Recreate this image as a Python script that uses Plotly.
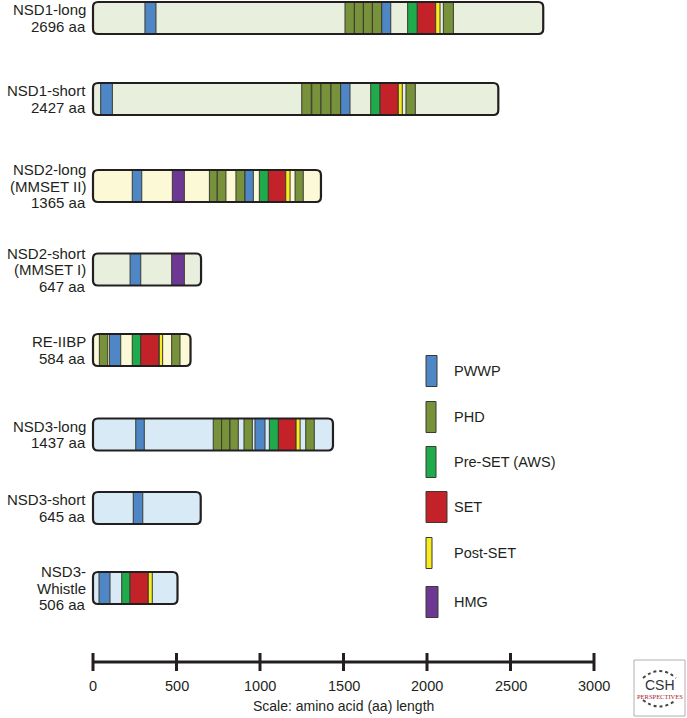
import plotly.graph_objects as go

# ---------------- data ----------------
PROTEINS = ["NSD1-long", "NSD1-short", "NSD2-long", "NSD2-short",
            "RE-IIBP", "NSD3-long", "NSD3-short", "NSD3-Whistle"]
LABEL_LINES = [["NSD1-long", "2696 aa"],
               ["NSD1-short", "2427 aa"],
               ["NSD2-long", "(MMSET II)", "1365 aa"],
               ["NSD2-short", "(MMSET I)", "647 aa"],
               ["RE-IIBP", "584 aa"],
               ["NSD3-long", "1437 aa"],
               ["NSD3-short", "645 aa"],
               ["NSD3-", "Whistle", "506 aa"]]
LENGTHS = [2696, 2427, 1365, 647, 584, 1437, 645, 506]
BACKGROUND = ["green", "green", "yellow", "green", "yellow", "blue", "blue", "blue"]

NSD1_LONG = [("PWWP", 311, 377), ("PHD", 1509, 1565), ("PHD", 1565, 1619),
             ("PHD", 1619, 1673), ("PHD", 1673, 1729), ("PWWP", 1729, 1783),
             ("PreSET", 1884, 1942), ("SET", 1942, 2052), ("PostSET", 2052, 2078),
             ("PHD", 2098, 2158)]
NSD1_SHORT = [("PWWP", 46, 116), ("PHD", 1250, 1307), ("PHD", 1310, 1365),
              ("PHD", 1365, 1425), ("PHD", 1425, 1483), ("PWWP", 1483, 1539),
              ("PreSET", 1663, 1719), ("SET", 1719, 1828), ("PostSET", 1828, 1852),
              ("PHD", 1874, 1930)]
NSD2_LONG = [("PWWP", 235, 292), ("HMG", 475, 547), ("PHD", 697, 744),
             ("PHD", 744, 796), ("PHD", 856, 910), ("PWWP", 910, 960),
             ("PreSET", 996, 1050), ("SET", 1050, 1154), ("PostSET", 1154, 1180),
             ("PHD", 1210, 1259)]
NSD2_SHORT = [("PWWP", 222, 286), ("HMG", 471, 547)]
RE_IIBP = [("PHD", 38, 88), ("PWWP", 98, 166), ("PreSET", 235, 286),
           ("SET", 286, 395), ("PostSET", 397, 417), ("PHD", 471, 521)]
NSD3_LONG = [("PWWP", 256, 307), ("PHD", 720, 770), ("PHD", 770, 820),
             ("PHD", 820, 870), ("PHD", 904, 954), ("PWWP", 970, 1030),
             ("PreSET", 1056, 1110), ("SET", 1110, 1216), ("PostSET", 1216, 1240),
             ("PHD", 1274, 1325)]
NSD3_SHORT = [("PWWP", 241, 298)]
NSD3_WHISTLE = [("PWWP", 36, 102), ("PreSET", 172, 222), ("SET", 222, 331),
                ("PostSET", 331, 355)]
DOMAINS = [NSD1_LONG, NSD1_SHORT, NSD2_LONG, NSD2_SHORT, RE_IIBP,
           NSD3_LONG, NSD3_SHORT, NSD3_WHISTLE]

LEGEND_KEYS = ["PWWP", "PHD", "PreSET", "SET", "PostSET", "HMG"]
LEGEND_TEXT = ["PWWP", "PHD", "Pre-SET (AWS)", "SET", "Post-SET", "HMG"]

SCALE_TICKS = [0, 500, 1000, 1500, 2000, 2500, 3000]
SCALE_TITLE = "Scale: amino acid (aa) length"

# ---------------- style ----------------
W, H = 687, 718
COLORS = {"PWWP": "#4f86c6", "PHD": "#77923a", "PreSET": "#1fab4c",
          "SET": "#c42229", "PostSET": "#f6ec1f", "HMG": "#6c3894"}
BG = {"green": "#e8efdd", "yellow": "#fcf9d7", "blue": "#d8eaf5"}
LEG_W = {"PWWP": 11, "PHD": 10, "PreSET": 10, "SET": 21, "PostSET": 6, "HMG": 12}
ROW_Y = [18, 99, 186, 269.5, 350, 434.5, 508, 588]
BAR_HALF = 16
LEG_Y = [371, 417, 462, 507, 553, 602]
FONT = "Liberation Sans, Arial, Helvetica, sans-serif"
TXT = "#231f20"

PX0 = 93.0            # pixel of aa=0
PX_PER_AA = 0.167
XMIN = -PX0 / PX_PER_AA
XMAX = XMIN + W / PX_PER_AA


def px(xp):
    return xp / W


shapes = []
annotations = []


def rrect_path(x0, x1, y0, y1, rpx=5):
    rx = rpx / PX_PER_AA
    ry = rpx
    return (f"M {x0+rx},{y0} L {x1-rx},{y0} Q {x1},{y0} {x1},{y0+ry} "
            f"L {x1},{y1-ry} Q {x1},{y1} {x1-rx},{y1} L {x0+rx},{y1} "
            f"Q {x0},{y1} {x0},{y1-ry} L {x0},{y0+ry} Q {x0},{y0} {x0+rx},{y0} Z")


for i, name in enumerate(PROTEINS):
    yc = ROW_Y[i]
    y0, y1 = yc - BAR_HALF, yc + BAR_HALF
    L = LENGTHS[i]
    shapes.append(dict(type="path", xref="x", yref="y",
                       path=rrect_path(0, L, y0, y1),
                       fillcolor=BG[BACKGROUND[i]], line=dict(width=0), layer="below"))
    for (k, s, e) in DOMAINS[i]:
        shapes.append(dict(type="rect", xref="x", yref="y", x0=s, x1=e, y0=y0, y1=y1,
                           fillcolor=COLORS[k], line=dict(color="#3a3a30", width=1)))
    shapes.append(dict(type="path", xref="x", yref="y",
                       path=rrect_path(0, L, y0, y1),
                       fillcolor="rgba(0,0,0,0)", line=dict(color="#231f20", width=2.2)))
    lines = LABEL_LINES[i]
    n = len(lines)
    step = 16.5
    for j, t in enumerate(lines):
        ly = yc + (j - (n - 1) / 2) * step
        annotations.append(dict(text=t, xref="paper", yref="y", x=px(88), y=ly,
                                xanchor="right", yanchor="middle", showarrow=False,
                                font=dict(family=FONT, size=15, color=TXT)))

# legend
for i, k in enumerate(LEGEND_KEYS):
    yc = LEG_Y[i]
    shapes.append(dict(type="rect", xref="paper", yref="y",
                       x0=px(426), x1=px(426 + LEG_W[k]), y0=yc - 15.5, y1=yc + 15.5,
                       fillcolor=COLORS[k], line=dict(color="#3a3a30", width=1)))
    annotations.append(dict(text=LEGEND_TEXT[i], xref="paper", yref="y", x=px(452), y=yc,
                            xanchor="left", yanchor="middle", showarrow=False,
                            font=dict(family=FONT, size=14.5, color=TXT)))

# scale bar
AX_Y = 662
shapes.append(dict(type="line", xref="x", yref="y", x0=SCALE_TICKS[0], x1=SCALE_TICKS[-1],
                   y0=AX_Y, y1=AX_Y, line=dict(color="#231f20", width=3)))
for t in SCALE_TICKS:
    shapes.append(dict(type="line", xref="x", yref="y", x0=t, x1=t,
                       y0=AX_Y - 9, y1=AX_Y + 9, line=dict(color="#231f20", width=3)))
    annotations.append(dict(text=str(t), xref="x", yref="y", x=t, y=686,
                            xanchor="center", yanchor="middle", showarrow=False,
                            font=dict(family=FONT, size=14.5, color=TXT)))
annotations.append(dict(text=SCALE_TITLE, xref="x", yref="y", x=1500, y=706,
                        xanchor="center", yanchor="middle", showarrow=False,
                        font=dict(family=FONT, size=14, color=TXT)))

# CSH Perspectives logo
shapes.append(dict(type="rect", xref="paper", yref="y", x0=px(634), x1=px(685),
                   y0=660, y1=716, fillcolor="white", line=dict(color="#b0b0b0", width=1)))
shapes.append(dict(type="path", xref="paper", yref="y",
                   path=f"M {px(643)},{678} Q {px(659.5)},{664} {px(676)},{678}",
                   line=dict(color="#444", width=2, dash="dot")))
shapes.append(dict(type="path", xref="paper", yref="y",
                   path=f"M {px(643)},{700} Q {px(659.5)},{713} {px(676)},{700}",
                   line=dict(color="#444", width=2, dash="dot")))
annotations.append(dict(text="CSH", xref="paper", yref="y", x=px(660), y=685,
                        xanchor="center", yanchor="middle", showarrow=False,
                        font=dict(family=FONT, size=14, color="#333")))
annotations.append(dict(text="PERSPECTIVES", xref="paper", yref="y", x=px(660), y=696,
                        xanchor="center", yanchor="middle", showarrow=False,
                        font=dict(family="Liberation Serif, serif", size=6.5, color="#a8232b")))

fig = go.Figure()
fig.add_trace(go.Scatter(x=[XMIN], y=[0], mode="markers", marker=dict(opacity=0),
                         hoverinfo="skip", showlegend=False))
fig.update_layout(
    width=W, height=H, margin=dict(l=0, r=0, t=0, b=0),
    paper_bgcolor="white", plot_bgcolor="white",
    xaxis=dict(range=[XMIN, XMAX], visible=False, fixedrange=True),
    yaxis=dict(range=[H, 0], visible=False, fixedrange=True),
    shapes=shapes, annotations=annotations, showlegend=False,
)
fig.write_html("out.html", config={"displayModeBar": False},
               post_script="document.body.style.margin='0px';document.body.style.overflow='hidden';")
